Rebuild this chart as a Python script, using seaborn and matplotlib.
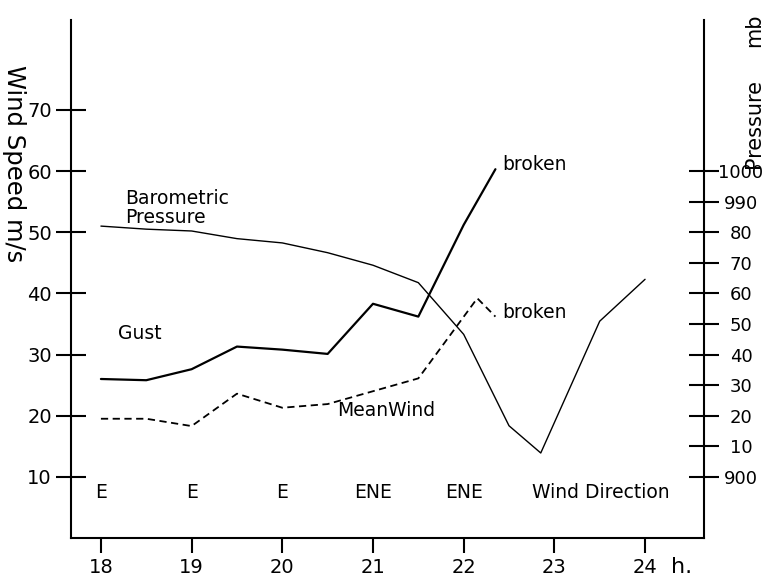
import matplotlib
matplotlib.use("Agg")
import matplotlib.pyplot as plt
import numpy as np
import pandas as pd
import seaborn as sns

# ---- data ----
gust_hours = [18, 18.5, 19, 19.5, 20, 20.5, 21, 21.5, 22, 22.35]
gust_speed = [26, 25.8, 27.6, 31.3, 30.8, 30.1, 38.3, 36.2, 51.2, 60.3]

mean_hours = [18, 18.5, 19, 19.5, 20, 20.5, 21, 21.5, 22.15, 22.35]
mean_speed = [19.5, 19.5, 18.3, 23.6, 21.3, 21.9, 24.0, 26.1, 39.2, 36.2]

press_hours = [18, 18.5, 19, 19.5, 20, 20.5, 21, 21.5, 22, 22.5, 22.85, 23.5, 24]
press_mb = [982, 981, 980.4, 977.9, 976.5, 973.3, 969.2, 963.5, 946.6, 916.7, 907.8, 950.9, 964.6]

dir_hours = [18, 19, 20, 21, 22]
dir_labels = ["E", "E", "E", "ENE", "ENE"]

wind_ticks = [10, 20, 30, 40, 50, 60, 70]
press_ticks = [900, 910, 920, 930, 940, 950, 960, 970, 980, 990, 1000]
press_tick_labels = ["900", "10", "20", "30", "40", "50", "60", "70", "80", "990", "1000"]
hour_ticks = [18, 19, 20, 21, 22, 23, 24]

# ---- style ----
sns.set_style("white")
plt.rcParams["font.family"] = ["DejaVu Sans"]
plt.rcParams["text.color"] = "black"
plt.rcParams["axes.labelcolor"] = "black"
plt.rcParams["xtick.color"] = "black"
plt.rcParams["ytick.color"] = "black"

fig = plt.figure(figsize=(7.65, 5.81), dpi=100)
ax = fig.add_axes([71 / 765, 1 - 538 / 581, (704 - 71) / 765, (538 - 20) / 581])
ax2 = ax.twinx()

gust_df = pd.DataFrame({"h": gust_hours, "v": gust_speed})
mean_df = pd.DataFrame({"h": mean_hours, "v": mean_speed})
press_df = pd.DataFrame({"h": press_hours, "p": press_mb})

sns.lineplot(data=gust_df, x="h", y="v", ax=ax, color="black", lw=1.6, sort=False)
sns.lineplot(data=mean_df, x="h", y="v", ax=ax, color="black", lw=1.3,
             linestyle=(0, (4, 2.5)), sort=False)
sns.lineplot(data=press_df, x="h", y="p", ax=ax2, color="black", lw=1.0, sort=False)

ax.set_xlim(17.67, 24.65)
ax.set_ylim(0, 84.7)
ax2.set_ylim(880, 1049.4)

ax.set_xlabel("")
ax.set_ylabel("")
ax2.set_ylabel("")

for a in (ax, ax2):
    for s in a.spines.values():
        s.set_linewidth(1.5)
        s.set_color("black")
    a.spines["top"].set_visible(False)
ax.spines["right"].set_visible(False)
ax2.spines["left"].set_visible(False)
ax2.spines["bottom"].set_visible(False)

ax.set_xticks(hour_ticks)
ax.set_xticklabels([str(h) for h in hour_ticks])
ax.set_yticks(wind_ticks)
ax.set_yticklabels([str(v) for v in wind_ticks])
ax.tick_params(axis="x", direction="out", length=10.8, width=1.5, pad=3.6,
               labelsize=14, colors="black", bottom=True)
ax.tick_params(axis="y", direction="inout", length=21.6, width=1.5, pad=3,
               labelsize=14, colors="black", left=True)

ax2.set_yticks(press_ticks)
ax2.set_yticklabels(press_tick_labels)
ax2.tick_params(axis="y", direction="inout", length=21.6, width=1.5, pad=15.8,
                labelsize=13, colors="black", right=True)
for lab in ax2.get_yticklabels():
    lab.set_horizontalalignment("center")

# ---- annotations ----
ax.text(18.265, 53.9, "Barometric\nPressure", fontsize=13.5, ha="left", va="center",
        linespacing=1.0)
ax.text(18.19, 33.5, "Gust", fontsize=13.5, ha="left", va="center")
ax.text(20.6, 20.8, "MeanWind", fontsize=13.5, ha="left", va="center")
ax.text(22.43, 61.1, "broken", fontsize=13.5, ha="left", va="center")
ax.text(22.43, 36.8, "broken", fontsize=13.5, ha="left", va="center")

for h, lab in zip(dir_hours, dir_labels):
    ax.text(h, 7.4, lab, fontsize=13.5, ha="center", va="center")
ax.text(23.51, 7.4, "Wind Direction", fontsize=13.5, ha="center", va="center")

fig.text(14 / 765, 1 - 164 / 581, "Wind Speed m/s", rotation=270, fontsize=17.5,
         ha="center", va="center")
fig.text(754 / 765, 1 - 123 / 581, "Pressure", rotation=90, fontsize=15,
         ha="center", va="center")
fig.text(754 / 765, 1 - 30 / 581, "mb", rotation=90, fontsize=15,
         ha="center", va="center")
fig.text(682 / 765, 1 - 567 / 581, "h.", fontsize=16, ha="center", va="center")

fig.savefig("out.png", dpi=100)
